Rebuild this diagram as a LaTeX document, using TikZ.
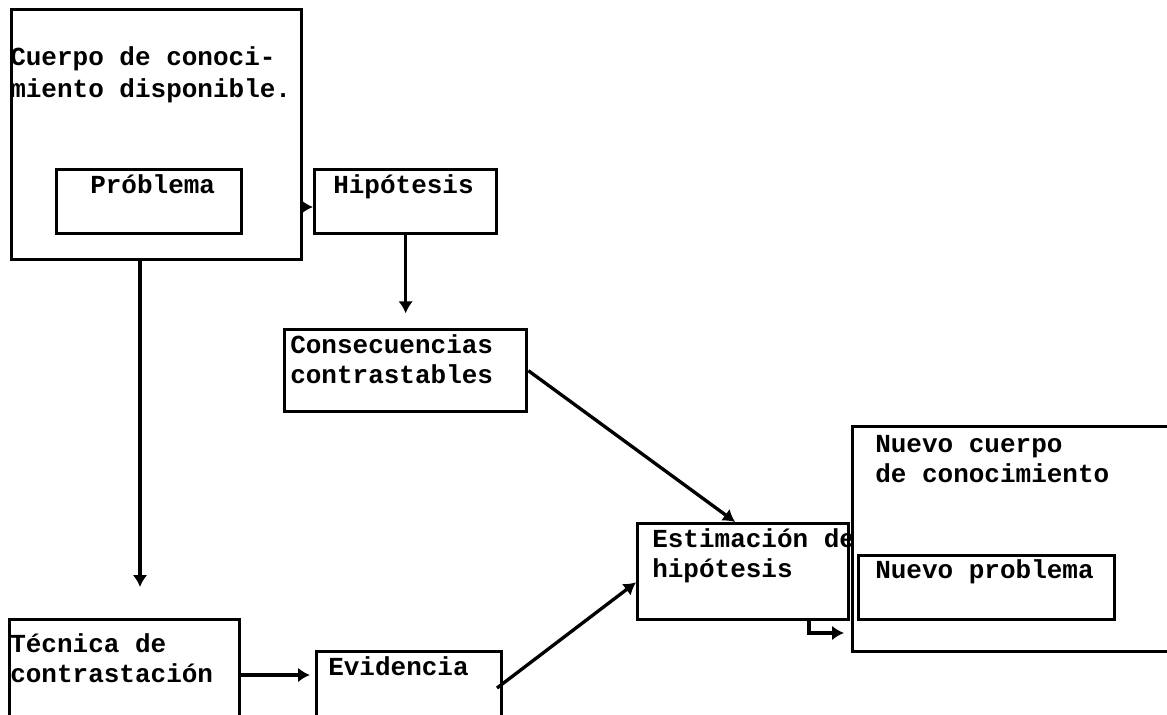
\documentclass[tikz,border=0pt]{standalone}
\usepackage{fontspec}
\setmonofont{Liberation Mono}
\usetikzlibrary{arrows.meta}
\newcommand\boxat[5]{\node[box,anchor=north west,minimum width=#4*0.75pt,minimum height=#5*0.75pt] (#1) at (#2,#3) {};}
\begin{document}
\begin{tikzpicture}[x=0.75pt,y=-0.75pt,
  box/.style={draw,line width=2.5pt,rectangle,inner sep=0pt},
  txt/.style={font=\ttfamily\bfseries\fontsize{19.5}{24}\selectfont,anchor=base west,inner sep=0pt},
  arr/.style={line width=2.5pt,-{Latex[length=9pt,width=11pt]}}]
\useasboundingbox[fill=white] (0,0) rectangle (1167,714);
% boxes
\boxat{cuerpo}{10}{8}{290}{250}
\boxat{prob}{55}{168}{185}{64}
\boxat{hip}{313}{168}{182}{64}
\boxat{cons}{283}{328}{242}{82}
\boxat{est}{636}{522}{211}{96}
\boxat{nuevo}{851}{425}{340}{225}
\boxat{nprob}{857}{554}{256}{64}
\boxat{tech}{8}{618}{230}{112}
\boxat{ev}{315}{650}{185}{80}
% texts
\node[txt] (t1) at (10,65) {Cuerpo de conoci-};
\node[txt] (t2) at (10,97) {miento disponible.};
\node[txt] (t3) at (90,193) {Próblema};
\node[txt] (t4) at (333,193) {Hipótesis};
\node[txt] (t5) at (290,353) {Consecuencias};
\node[txt] (t6) at (290,383) {contrastables};
\node[txt] (t7) at (652,547) {Estimación de};
\node[txt] (t8) at (652,577) {hipótesis};
\node[txt] (t9) at (875,452) {Nuevo cuerpo};
\node[txt] (t10) at (875,482) {de conocimiento};
\node[txt] (t11) at (875,578) {Nuevo problema};
\node[txt] (t12) at (10,652) {Técnica de};
\node[txt] (t13) at (10,682) {contrastación};
\node[txt] (t14) at (328,675) {Evidencia};
% connectors
\coordinate (c1) at (140,587);
\coordinate (c2) at (310,675);
\coordinate (c3) at (497,688);
\coordinate (c4) at (809,633);
\coordinate (c5) at (844,633);
\coordinate (c6) at (300,207);
\draw[arr] (c6) -- (hip.west |- c6);
\draw[arr,shorten >=11pt] (hip.south) -- (cons.north);
\draw[arr] (cons.east) -- ([xshift=-6pt]est.north);
\draw[arr] (cuerpo.south -| c1) -- (c1);
\draw[arr] (tech.east |- c2) -- (c2);
\draw[arr] (c3) -- ([yshift=-8pt]est.west);
\draw[arr] (est.south -| c4) -- (c4) -- (c5);
\end{tikzpicture}
\end{document}
